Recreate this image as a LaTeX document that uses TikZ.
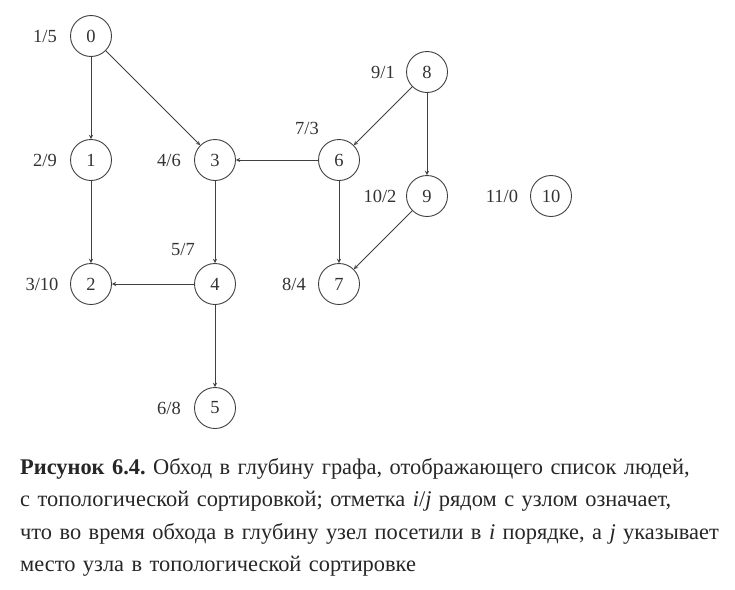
\documentclass[tikz,border=0pt]{standalone}
\usepackage{fontspec}
\setmainfont{Liberation Serif}
\usetikzlibrary{positioning}

\begin{document}
\begin{tikzpicture}[
        x=1pt, y=1pt,
        on grid,
        node distance=124pt and 124pt,
        >=stealth,
        font=\fontsize{18.5}{20}\selectfont,
        vertex/.style={circle, draw=black!75, line width=0.9pt, minimum size=41pt, inner sep=0pt, text=black!80},
        order/.style={text=black!80, inner sep=2pt},
        edge/.style={->, draw=black!75, line width=0.9pt}
    ]
    \useasboundingbox (0,0) rectangle (735,-589);

    % --- vertices ---
    \node (n0) [vertex] at (91,-36) {0};
    \node (n1) [vertex, below=of n0] {1};
    \node (n2) [vertex, below=of n1] {2};
    \node (n3) [vertex, right=of n1] {3};
    \node (n4) [vertex, below=of n3] {4};
    \node (n5) [vertex, below=of n4] {5};
    \node (n6) [vertex, right=of n3] {6};
    \node (n7) [vertex, below=of n6] {7};
    \node (n8) [vertex, above right=88pt and 88pt of n6] {8};
    \node (n9) [vertex, below=of n8] {9};
    \node (n10) [vertex, right=of n9] {10};

    % --- visit / sort marks ---
    \node[order, left=46pt of n0] {1/5};
    \node[order, left=46pt of n1] {2/9};
    \node[order, left=49pt of n2] {3/10};
    \node[order, left=46pt of n3] {4/6};
    \node[order, above left=35pt and 32pt of n4] {5/7};
    \node[order, left=46pt of n5] {6/8};
    \node[order, above left=32pt and 32pt of n6] {7/3};
    \node[order, left=45pt of n7] {8/4};
    \node[order, left=44pt of n8] {9/1};
    \node[order, left=47pt of n9] {10/2};
    \node[order, left=49pt of n10] {11/0};

    % --- edges ---
    \draw[edge] (n0) -- (n1);
    \draw[edge] (n0) -- (n3);
    \draw[edge] (n1) -- (n2);
    \draw[edge] (n3) -- (n4);
    \draw[edge] (n4) -- (n2);
    \draw[edge] (n4) -- (n5);
    \draw[edge] (n6) -- (n3);
    \draw[edge] (n6) -- (n7);
    \draw[edge] (n8) -- (n6);
    \draw[edge] (n8) -- (n9);
    \draw[edge] (n9) -- (n7);

    % --- caption ---
    \node (caption) [anchor=base west, text width=715pt, align=left, inner sep=0pt, text=black!85,
        font=\fontsize{22.4}{32.6}\selectfont\frenchspacing] at (20,-474)
        {\textbf{Рисунок 6.4.} Обход в глубину графа, отображающего список людей,\\
        с топологической сортировкой; отметка \textit{i}/\textit{j} рядом с узлом означает,\\
        что во время обхода в глубину узел посетили в \textit{i} порядке, а \textit{j} указывает\\
        место узла в топологической сортировке};
\end{tikzpicture}
\end{document}
